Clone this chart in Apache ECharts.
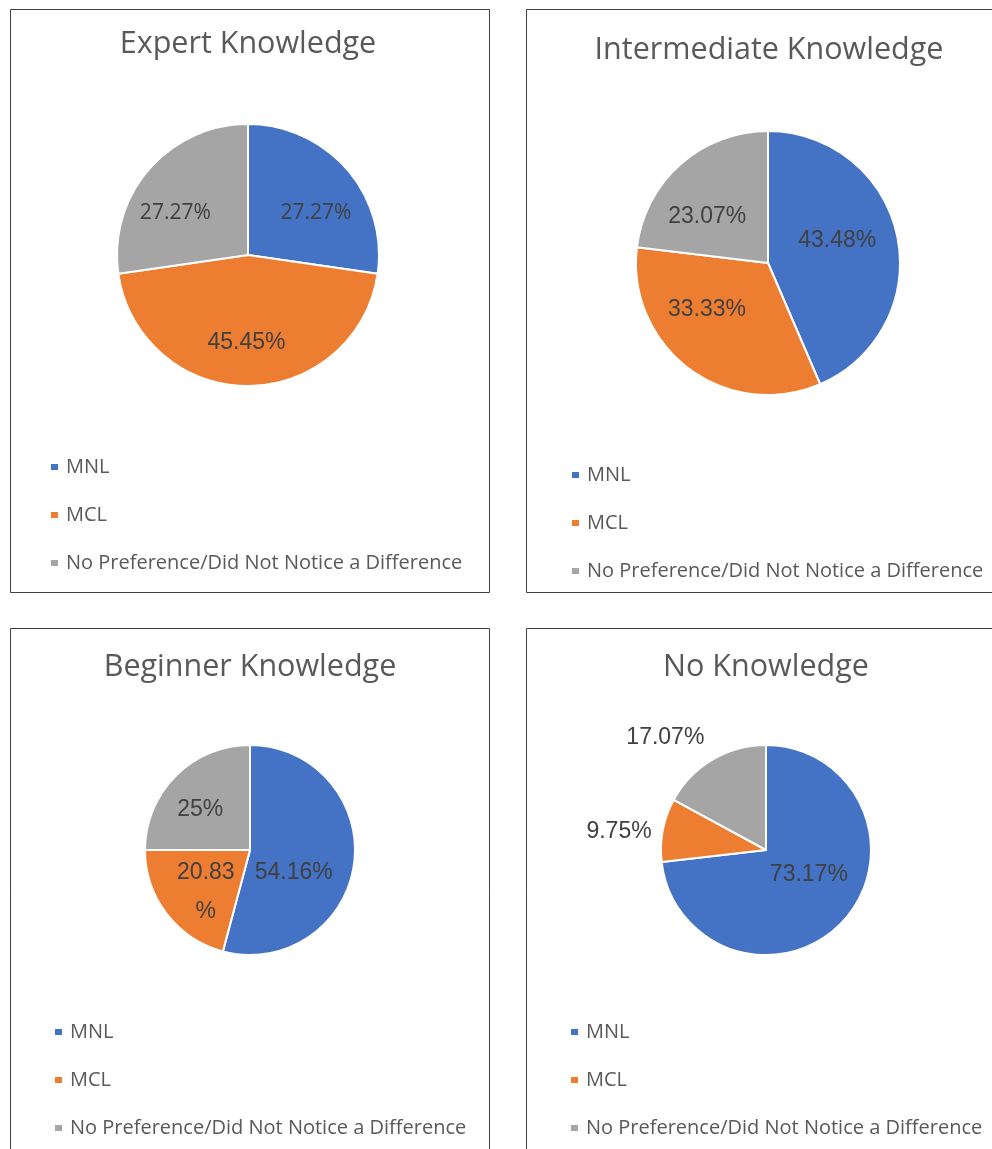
<!DOCTYPE html>
<html>
<head>
<meta charset="utf-8">
<title>Preference by Knowledge Level</title>
<script src="https://cdn.jsdelivr.net/npm/echarts@6/dist/echarts.min.js"></script>
<style>
  html, body { margin: 0; padding: 0; background: #ffffff; }
  #chart { width: 992px; height: 1149px; }
</style>
</head>
<body>
<div id="chart"></div>
<script>
// Response categories shared by all four pies
const categories = ['MNL', 'MCL', 'No Preference/Did Not Notice a Difference'];

// Panel titles
const panelTitles = ['Expert Knowledge', 'Intermediate Knowledge', 'Beginner Knowledge', 'No Knowledge'];

// Share of respondents (%) per category, in category order
const expertValues = [27.27, 45.45, 27.27];
const intermediateValues = [43.48, 33.33, 23.07];
const beginnerValues = [54.16, 20.83, 25];
const noKnowledgeValues = [73.17, 9.75, 17.07];

const colors = ['#4472C4', '#ED7D31', '#A5A5A5'];

// Panel geometry: frame, title position, pie centre/radius, legend position.
// labelPlacement: per slice, [distance from centre as a fraction of the radius,
// turn in degrees away from the slice bisector]
const panels = [
  { frame: [10.5, 9.5, 479, 583], titleX: 248, titleY: 29, center: [248, 255], radius: 131, legendX: 49, legendY: 455,
    labelPlacement: [[0.61, 9], [0.67, 1], [0.64, -11]] },
  { frame: [526.5, 9.5, 480, 583], titleX: 769, titleY: 35, center: [768, 263], radius: 132, legendX: 570, legendY: 463,
    labelPlacement: [[0.55, -6], [0.58, 16], [0.58, -11]] },
  { frame: [10.5, 628.5, 479, 540], titleX: 250, titleY: 652, center: [250, 850], radius: 105, legendX: 53, legendY: 1020,
    labelPlacement: [[0.47, 20], [0.58, -6], [0.61, -6]] },
  { frame: [526.5, 628.5, 480, 540], titleX: 766, titleY: 652, center: [766, 850], radius: 105, legendX: 569, legendY: 1020,
    labelPlacement: [[0.47, -12], [1.41, -4], [1.44, -11]] }
];

const valueSets = [expertValues, intermediateValues, beginnerValues, noKnowledgeValues];

const arialLike = 'Liberation Sans, Arial, sans-serif';

function buildData(values, panelIndex) {
  return values.map(function (v, i) {
    const item = { name: categories[i], value: v };
    // Expert panel: the two upper labels use a humanist face
    if (panelIndex === 0 && i !== 1) {
      item.label = { fontFamily: 'Open Sans, sans-serif', fontSize: 21 };
    }
    // Beginner MCL label wraps onto two lines
    if (panelIndex === 2 && i === 1) {
      item.label = { formatter: '{c}\n%', lineHeight: 39 };
    }
    return item;
  });
}

// Place each label relative to its slice's bisector
function makeLabelLayout(p) {
  const values = valueSets[p];
  const total = values.reduce(function (a, b) { return a + b; }, 0);
  const pn = panels[p];
  return function (params) {
    const i = params.dataIndex;
    const place = pn.labelPlacement[i];
    let before = 0;
    for (let k = 0; k < i; k++) before += values[k];
    const mid = (before + values[i] / 2) / total * Math.PI * 2 + place[1] * Math.PI / 180;
    return {
      x: pn.center[0] + Math.sin(mid) * pn.radius * place[0],
      y: pn.center[1] - Math.cos(mid) * pn.radius * place[0],
      align: 'center',
      verticalAlign: 'middle'
    };
  };
}

const series = valueSets.map(function (values, p) {
  return {
    type: 'pie',
    name: panelTitles[p],
    center: panels[p].center,
    radius: [0, panels[p].radius],
    startAngle: 90,
    clockwise: true,
    avoidLabelOverlap: false,
    silent: true,
    animation: false,
    itemStyle: { borderColor: '#ffffff', borderWidth: 2 },
    label: {
      show: true,
      position: 'inside',
      formatter: '{c}%',
      color: '#404040',
      fontFamily: arialLike,
      fontSize: 23
    },
    labelLine: { show: false },
    labelLayout: makeLabelLayout(p),
    data: buildData(values, p)
  };
});

const titles = panels.map(function (pn, p) {
  return {
    text: panelTitles[p],
    left: pn.titleX,
    top: pn.titleY,
    padding: 0,
    textAlign: 'center',
    textStyle: { fontFamily: 'Open Sans, sans-serif', fontWeight: 'normal', fontSize: 30.5, color: '#595959' }
  };
});

const legends = panels.map(function (pn, p) {
  return {
    seriesIndex: p,
    data: categories,
    orient: 'vertical',
    left: pn.legendX,
    top: pn.legendY,
    height: 300,
    padding: 0,
    icon: 'rect',
    itemWidth: 9,
    itemHeight: 8,
    itemGap: 24,
    selectedMode: false,
    textStyle: { fontFamily: 'Open Sans, sans-serif', fontSize: 20, color: '#595959', padding: [0, 0, 0, 2], lineHeight: 24 }
  };
});

const frames = panels.map(function (pn) {
  return {
    type: 'rect',
    shape: { x: pn.frame[0], y: pn.frame[1], width: pn.frame[2], height: pn.frame[3] },
    style: { fill: 'none', stroke: '#3f3f3f', lineWidth: 1 },
    silent: true,
    z: -1
  };
});

const chart = echarts.init(document.getElementById('chart'), null, { renderer: 'canvas' });
chart.setOption({
  backgroundColor: '#ffffff',
  color: colors,
  animation: false,
  title: titles,
  legend: legends,
  graphic: frames,
  series: series
});
</script>
</body>
</html>
